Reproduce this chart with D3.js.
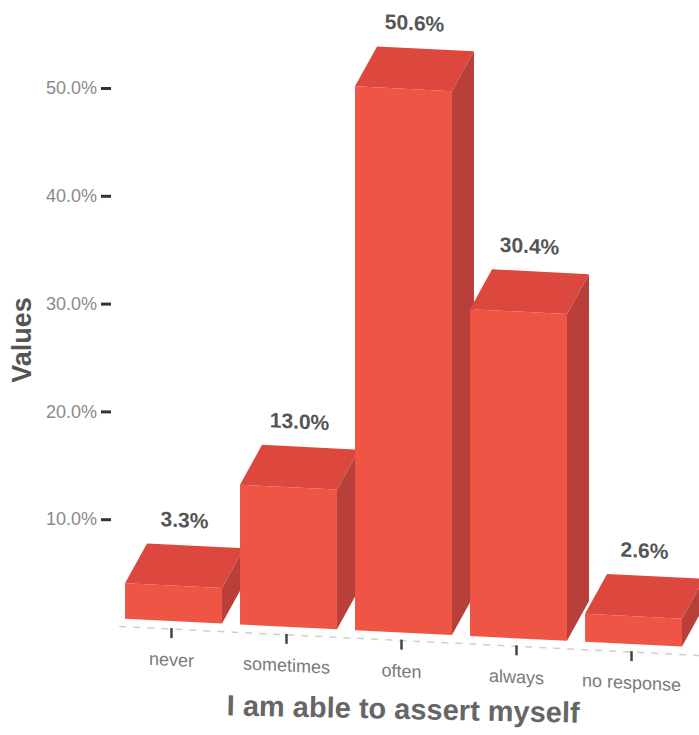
<!DOCTYPE html>
<html><head><meta charset="utf-8">
<script src="https://cdn.jsdelivr.net/npm/d3@7"></script>
<style>body{margin:0;background:#fff}svg{display:block}</style>
</head><body>
<svg id="c" width="699" height="735"></svg>
<script>
const categories = ["never", "sometimes", "often", "always", "no response"];
const values = [3.3, 13.0, 50.6, 30.4, 2.6];
const yTicks = [10, 20, 30, 40, 50];
const yTitle = "Values";
const xTitle = "I am able to assert myself";

const svg = d3.select("#c");
const FONT = "'Liberation Sans', Arial, Helvetica, sans-serif";
const depthX = 22, depthY = -41;
const base = 618;

const x = d3.scaleBand().domain(categories)
  .range([119.25, 687.75]).paddingInner(0.157).paddingOuter(0.05);
const yBar = d3.scaleLinear().domain([0, 50]).range([base, base - 537.5]);
const yAx = d3.scaleLinear().domain([0, 50]).range([627, 88]);

// y axis (not skewed)
const ax = svg.append("g").attr("transform", "translate(111,0)")
  .call(d3.axisLeft(yAx).tickValues(yTicks)
    .tickFormat(d => d3.format(".1f")(d) + "%").tickSize(10).tickPadding(4));
ax.select(".domain").remove();
ax.selectAll(".tick line").attr("stroke", "#333").attr("stroke-width", 3);
ax.selectAll(".tick text").attr("fill", "#8a8a8a").style("font-family", FONT).style("font-size", "18px");

svg.append("text").text(yTitle)
  .attr("transform", "translate(31,340) rotate(-90)")
  .attr("text-anchor", "middle").attr("fill", "#555")
  .style("font-family", FONT).style("font-size", "27px").style("font-weight", "bold");

// skewed plot group (scan is sheared)
const g = svg.append("g").attr("transform", "matrix(1,0.05,0,1,-0,-5.5)");

// dashed baseline
g.append("line").attr("x1", x.range()[0]).attr("x2", 720)
  .attr("y1", base + 8).attr("y2", base + 8)
  .attr("stroke", "#d0d0d0").attr("stroke-width", 1.5).attr("stroke-dasharray", "7,7");

const bw = x.bandwidth();
categories.forEach((c, i) => {
  const x0 = x(c), x1 = x0 + bw;
  const yt = yBar(values[i]), yb = yBar(0);
  const bar = g.append("g");
  bar.append("rect").attr("x", x0).attr("y", yt).attr("width", bw).attr("height", yb - yt)
    .attr("fill", "#ee5545");
  bar.append("path").attr("d", `M${x0},${yt}L${x1},${yt}L${x1 + depthX},${yt + depthY}L${x0 + depthX},${yt + depthY}Z`)
    .attr("fill", "#dc483d");
  bar.append("path").attr("d", `M${x1},${yt}L${x1 + depthX},${yt + depthY}L${x1 + depthX},${yb + depthY}L${x1},${yb}Z`)
    .attr("fill", "#b93f3a");
  bar.append("text").text(d3.format(".1f")(values[i]) + "%")
    .attr("x", x0 + bw / 2 + depthX / 2).attr("y", yt + depthY - 18)
    .attr("text-anchor", "middle").attr("fill", "#555")
    .style("font-family", FONT).style("font-size", "21px").style("font-weight", "bold");
});

// x ticks and labels
const xa = g.append("g").attr("transform", `translate(-2,${base + 7})`)
  .call(d3.axisBottom(x).tickSize(10).tickPadding(15));
xa.select(".domain").remove();
xa.selectAll(".tick line").attr("stroke", "#444").attr("stroke-width", 2.5);
xa.selectAll(".tick text").attr("fill", "#7a7a7a").style("font-family", FONT).style("font-size", "18px");

svg.append("text").text(xTitle)
  .attr("transform", "translate(403,719) rotate(1.2)")
  .attr("text-anchor", "middle").attr("fill", "#666")
  .style("font-family", FONT).style("font-size", "29px").style("font-weight", "bold");
</script>
</body></html>
